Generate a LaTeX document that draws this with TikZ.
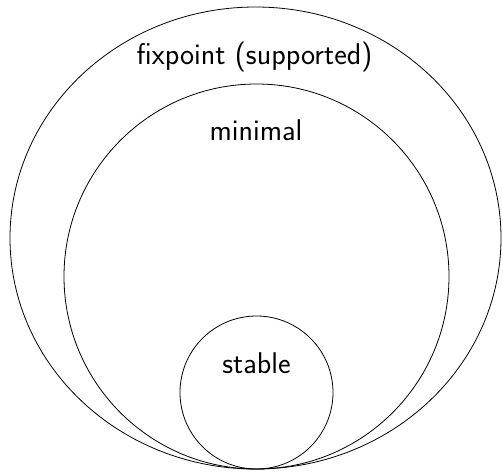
\documentclass[tikz,border=0pt]{standalone}
\begin{document}
\begin{tikzpicture}[x=1pt,y=-1pt,
  set/.style={draw=black,line width=0.8pt},
  lbl/.style={anchor=base,inner sep=0pt,font=\fontsize{30}{36}\selectfont\sffamily}]
\useasboundingbox (0,0) rectangle (503,472);
% nested sets, all touching at the bottom point
\draw[set] (255.5,238) ellipse [x radius=245.5, y radius=231];
\draw[set] (256.5,276.5) circle [radius=192.5];
\draw[set] (256.5,392.5) circle [radius=76.5];
% labels
\node[lbl] (fix) at (254.5,64) {fixpoint (supported)};
\node[lbl] (min) at (256,140) {minimal};
\node[lbl] (stb) at (256.5,373) {stable};
\end{tikzpicture}
\end{document}
